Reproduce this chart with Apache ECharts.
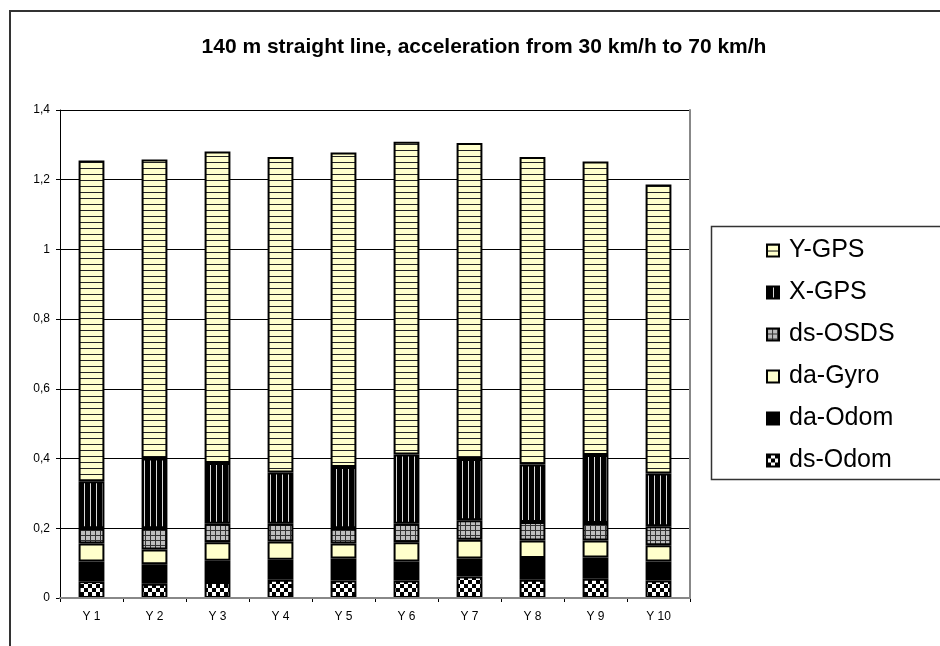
<!DOCTYPE html>
<html>
<head>
<meta charset="utf-8">
<script src="https://cdn.jsdelivr.net/npm/echarts@6/dist/echarts.min.js"></script>
<style>
html,body{margin:0;padding:0;background:#fff;}
#chart{width:940px;height:646px;}
</style>
</head>
<body>
<div id="chart"></div>
<script>
const categories = ['Y 1','Y 2','Y 3','Y 4','Y 5','Y 6','Y 7','Y 8','Y 9','Y 10'];
const yTickLabels = ['0','0,2','0,4','0,6','0,8','1','1,2','1,4'];
const dsOdom = [0.048,0.041,0.046,0.052,0.050,0.050,0.062,0.052,0.055,0.050];
const daOdom = [0.057,0.056,0.061,0.058,0.063,0.055,0.051,0.063,0.061,0.055];
const daGyro = [0.051,0.042,0.053,0.052,0.043,0.055,0.054,0.050,0.049,0.046];
const dsOSDS = [0.044,0.061,0.053,0.051,0.044,0.053,0.056,0.053,0.050,0.055];
const xGPS   = [0.135,0.200,0.174,0.147,0.176,0.199,0.176,0.165,0.195,0.151];
const yGPS   = [0.920,0.858,0.894,0.905,0.902,0.897,0.906,0.882,0.842,0.829];
const legendOrder = ['Y-GPS','X-GPS','ds-OSDS','da-Gyro','da-Odom','ds-Odom'];

function tile(w, h, draw) {
  const c = document.createElement('canvas');
  c.width = w; c.height = h;
  const g = c.getContext('2d');
  draw(g, w, h);
  return { image: c, repeat: 'repeat' };
}
const YELLOW = '#FFFFCC';
const patYGPS = tile(6, 6, (g, w, h) => {
  g.fillStyle = YELLOW; g.fillRect(0, 0, w, h);
  g.fillStyle = '#222'; g.fillRect(0, 0, w, 1);
});
const patXGPS = tile(6, 6, (g, w, h) => {
  g.fillStyle = '#000'; g.fillRect(0, 0, w, h);
  g.fillStyle = '#d8d8d8'; g.fillRect(0, 0, 1, h);
});
const patOSDS = tile(5, 5, (g, w, h) => {
  g.fillStyle = '#bdbdbd'; g.fillRect(0, 0, w, h);
  g.fillStyle = '#333'; g.fillRect(0, 0, w, 1); g.fillRect(0, 0, 1, h);
});
const patChecker = tile(8, 8, (g, w, h) => {
  g.fillStyle = '#fff'; g.fillRect(0, 0, w, h);
  g.fillStyle = '#000'; g.fillRect(0, 0, 4, 4); g.fillRect(4, 4, 4, 4);
});

function mk(name, data, color) {
  return {
    name, type: 'bar', stack: 'total', data,
    barWidth: '41%',
    itemStyle: { color, borderColor: '#000', borderWidth: 2 },
    emphasis: { disabled: true },
    animation: false
  };
}

const chart = echarts.init(document.getElementById('chart'), null, { renderer: 'canvas' });
chart.setOption({
  animation: false,
  backgroundColor: '#fff',
  title: {
    text: '140 m straight line, acceleration from 30 km/h to 70 km/h',
    left: 479, top: 32, textAlign: 'center',
    textStyle: { fontFamily: 'Liberation Sans, Arial, sans-serif', fontWeight: 'bold', fontSize: 21, color: '#000' }
  },
  graphic: [
    { type: 'rect', z: 0, shape: { x: 10, y: 11, width: 1200, height: 1000 },
      style: { fill: 'none', stroke: '#333', lineWidth: 2 } },
    { type: 'rect', z: 1, shape: { x: 711.5, y: 226.5, width: 400, height: 253 },
      style: { fill: '#fff', stroke: '#333', lineWidth: 1.5 } }
  ],
  legend: {
    orient: 'vertical', left: 761, top: 233, z: 5,
    data: legendOrder,
    itemWidth: 12, itemHeight: 12, itemGap: 17,
    icon: 'rect',
    selectedMode: false,
    textStyle: { fontFamily: 'Liberation Sans, Arial, sans-serif', fontSize: 25, color: '#000', padding: [0, 0, 0, 5] }
  },
  grid: { left: 60, right: 250, top: 110, bottom: 48, containLabel: false },
  xAxis: [{
    type: 'category', data: categories,
    axisLine: { lineStyle: { color: '#000', width: 1 } },
    axisTick: { show: true, length: 4, inside: false, lineStyle: { color: '#000' } },
    axisLabel: { color: '#000', fontFamily: 'Liberation Sans, Arial, sans-serif', fontSize: 12, margin: 13 }
  }, {
    type: 'category', data: categories, position: 'top',
    axisLine: { show: true, lineStyle: { color: '#888', width: 2 } },
    axisTick: { show: false }, axisLabel: { show: false }, z: 10
  }],
  yAxis: [{
    type: 'value', min: 0, max: 1.4, interval: 0.2,
    axisLine: { show: true, lineStyle: { color: '#000', width: 1 } },
    axisTick: { show: true, length: 4, lineStyle: { color: '#000' } },
    splitLine: { show: true, lineStyle: { color: '#000', width: 1 } },
    axisLabel: {
      color: '#000', fontFamily: 'Liberation Sans, Arial, sans-serif', fontSize: 12, margin: 10,
      formatter: (v) => yTickLabels[Math.round(v / 0.2)]
    }
  }, {
    type: 'value', min: 0, max: 1.4, interval: 0.2, position: 'right',
    axisLine: { show: true, lineStyle: { color: '#888', width: 2 } },
    axisTick: { show: false }, axisLabel: { show: false }, splitLine: { show: false }, z: 10
  }],
  series: [
    mk('ds-Odom', dsOdom, patChecker),
    mk('da-Odom', daOdom, '#000'),
    mk('da-Gyro', daGyro, YELLOW),
    mk('ds-OSDS', dsOSDS, patOSDS),
    mk('X-GPS', xGPS, patXGPS),
    mk('Y-GPS', yGPS, patYGPS)
  ]
});
</script>
</body>
</html>
